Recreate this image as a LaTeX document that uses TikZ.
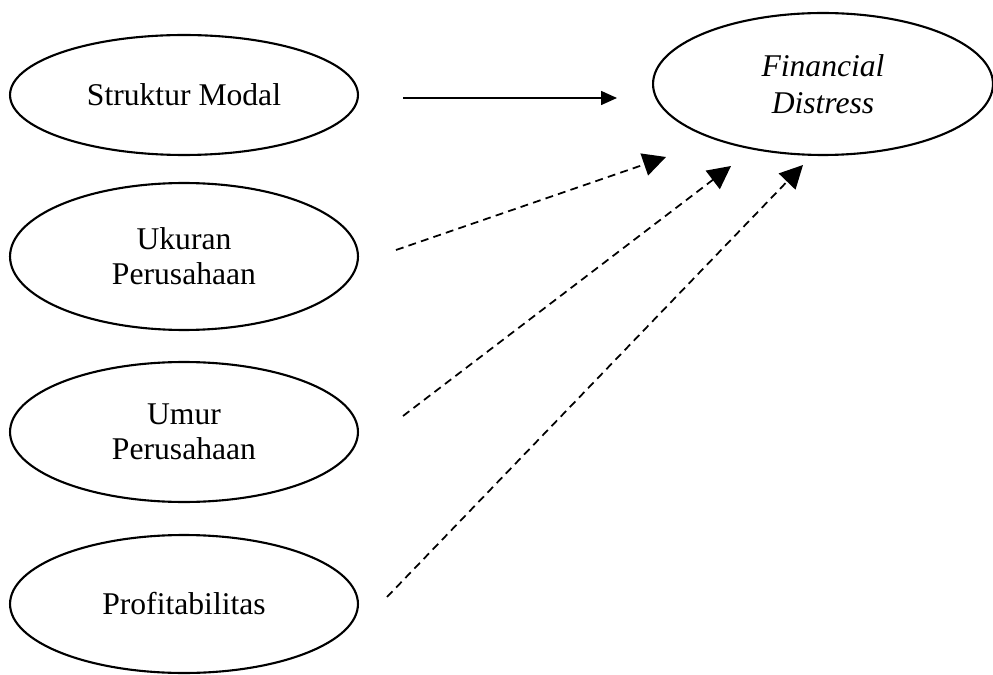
\documentclass[tikz,border=0pt]{standalone}
\usepackage{fontspec}
\setmainfont{Liberation Serif}
\usetikzlibrary{shapes.geometric,arrows.meta}

\begin{document}
\begin{tikzpicture}[x=0.02cm, y=-0.02cm]
    % Define styles
    \tikzstyle{varnode} = [ellipse, draw=black, line width=1.2pt, inner sep=0pt, minimum width=6.96cm, align=center, font=\fontsize{18}{20}\selectfont]
    \tikzstyle{effect} = [-{Triangle[length=0.32cm, width=0.28cm]}, line width=0.9pt]
    \tikzstyle{dashedeffect} = [-{Triangle[length=0.46cm, width=0.46cm]}, line width=1pt, dash pattern=on 4.5pt off 3pt]

    \useasboundingbox (0,0) rectangle (993,675);

    % Independent variables
    \node [varnode, minimum height=2.4cm] (struktur_modal) at (184,95) {Struktur Modal};
    \node [varnode, minimum height=2.94cm] (ukuran_perusahaan) at (184,256.5) {Ukuran\\Perusahaan};
    \node [varnode, minimum height=2.8cm] (umur_perusahaan) at (184,432) {Umur\\Perusahaan};
    \node [varnode, minimum height=2.76cm] (profitabilitas) at (184,604) {Profitabilitas};

    % Dependent variable
    \node [varnode, minimum width=6.8cm, minimum height=2.84cm, font=\fontsize{18}{21}\selectfont\itshape] (financial_distress) at (823,84) {Financial\\Distress};

    % Arrow end points
    \coordinate (sm_start) at (403,98);
    \coordinate (sm_end) at (617,98);
    \coordinate (up_start) at (396,250);
    \coordinate (up_end) at (666,157);
    \coordinate (ump_start) at (403,416);
    \coordinate (ump_end) at (731,166);
    \coordinate (pr_start) at (387,597);
    \coordinate (pr_end) at (803,165);

    % Arrows
    \draw [effect] (sm_start) -- (sm_end);
    \draw [dashedeffect] (up_start) -- (up_end);
    \draw [dashedeffect] (ump_start) -- (ump_end);
    \draw [dashedeffect] (pr_start) -- (pr_end);
\end{tikzpicture}
\end{document}
